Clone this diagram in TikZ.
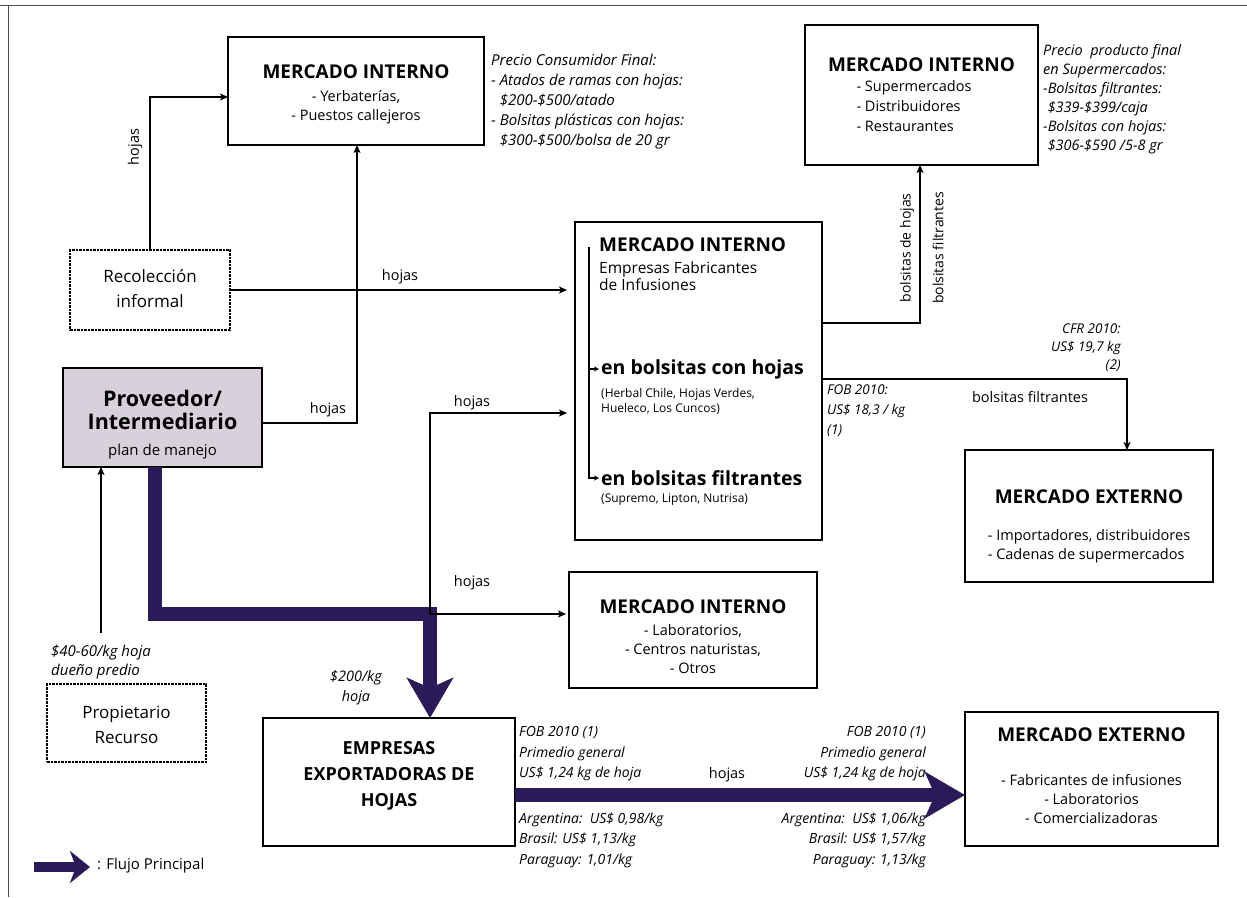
\documentclass[tikz,border=0pt]{standalone}
\usepackage{fontspec}
\setmainfont{Open Sans}
\usetikzlibrary{arrows.meta}
\definecolor{mainflow}{HTML}{2A1A58}
\definecolor{provfill}{HTML}{D8D0DA}
\begin{document}
\begin{tikzpicture}[x=1pt,y=-1pt,
  box/.style={draw, line width=1.6pt, inner sep=0, outer sep=0},
  dbox/.style={box, dash pattern=on 2.5pt off 1pt},
  ttl/.style={inner sep=0, font=\fontsize{19}{22}\selectfont\bfseries},
  itm/.style={inner sep=0, align=center, font=\fontsize{14.5}{19}\selectfont},
  big/.style={inner sep=0, align=center, font=\fontsize{17}{25}\selectfont},
  prc/.style={inner sep=0, font=\fontsize{14.5}{20}\selectfont\itshape},
  lbl/.style={inner sep=0, font=\fontsize{14.5}{18}\selectfont},
  conn/.style={line width=1.3pt, -{Stealth[length=8pt,width=7pt,inset=2pt]}},
  main/.style={line width=14pt, draw=mainflow, line join=miter, -{Stealth[length=40pt,width=46pt,inset=10pt]}},
]
\useasboundingbox (0,0) rectangle (1247,897);
% page border from scan
\draw[line width=1pt, black!70] (0,5) -- (1247,5);
\draw[line width=1pt, black!70] (8,5) -- (8,897);

% boxes
\node[box, minimum width=256pt, minimum height=108pt] (A) at (356,91) {};
\node[box, minimum width=233pt, minimum height=140pt] (B) at (921.5,95) {};
\node[dbox, minimum width=160pt, minimum height=80pt] (Rec) at (150,290) {};
\node[box, fill=provfill, minimum width=199pt, minimum height=99pt] (Prov) at (162.5,417.5) {};
\node[dbox, minimum width=159pt, minimum height=78pt] (Prop) at (126.5,723) {};
\node[box, minimum width=247pt, minimum height=318pt] (C) at (698.5,381) {};
\node[box, minimum width=248pt, minimum height=132pt] (E) at (1089,516) {};
\node[box, minimum width=248pt, minimum height=116pt] (D) at (693,630) {};
\node[box, minimum width=252pt, minimum height=128pt] (F) at (389,782) {};
\node[box, minimum width=253pt, minimum height=134pt] (G) at (1091.5,779) {};

% box texts
\node[ttl] (At) at (356,72) {MERCADO INTERNO};
\node[itm] (Ai) at (356,107.5) {- Yerbaterías,\\- Puestos callejeros};
\node[ttl] (Bt) at (921.5,65) {MERCADO INTERNO};
\node[itm, align=left, font=\fontsize{14.5}{20}\selectfont] (Bi) at (914,106) {- Supermercados\\- Distribuidores\\- Restaurantes};
\node[big] (Rect) at (150,289) {Recolección\\informal};
\node[big, font=\fontsize{21.5}{23}\selectfont\bfseries] (Provt) at (162.5,410) {Proveedor/\\Intermediario};
\node[itm, font=\fontsize{15}{19}\selectfont] (Provp) at (162.5,452) {plan de manejo};
\node[big] (Propt) at (126.5,725) {Propietario\\Recurso};
\node[ttl, anchor=west] (Ct) at (599,245) {MERCADO INTERNO};
\node[itm, anchor=west, align=left, font=\fontsize{15.5}{17}\selectfont] (Ci) at (599,276) {Empresas Fabricantes\\de Infusiones};
\node[inner sep=0, anchor=west, font=\fontsize{19.5}{22}\selectfont\bfseries] (C1) at (601,369) {en bolsitas con hojas};
\node[inner sep=0, anchor=west, align=left, font=\fontsize{12}{15}\selectfont] (C1i) at (601,401) {(Herbal Chile, Hojas Verdes,\\Hueleco, Los Cuncos)};
\node[inner sep=0, anchor=west, font=\fontsize{19.5}{22}\selectfont\bfseries] (C2) at (601,478) {en bolsitas filtrantes};
\node[inner sep=0, anchor=west, font=\fontsize{12}{15}\selectfont] (C2i) at (601,500) {(Supremo, Lipton, Nutrisa)};
\node[ttl] (Et) at (1089,497) {MERCADO EXTERNO};
\node[itm, align=left] (Ei) at (1089,546) {- Importadores, distribuidores\\- Cadenas de supermercados};
\node[ttl] (Dt) at (693,607) {MERCADO INTERNO};
\node[itm] (Di) at (693,649) {- Laboratorios,\\- Centros naturistas,\\- Otros};
\node[ttl, align=center, font=\fontsize{18}{26}\selectfont\bfseries] (Ft) at (389,776) {EMPRESAS\\EXPORTADORAS DE\\HOJAS};
\node[ttl] (Gt) at (1091.5,735) {MERCADO EXTERNO};
\node[itm] (Gi) at (1091.5,799) {- Fabricantes de infusiones\\- Laboratorios\\- Comercializadoras};

% price texts
\node[prc, anchor=west, align=left, font=\fontsize{15}{20}\selectfont\itshape] (Ap) at (491,102) {Precio Consumidor Final:\\- Atados de ramas con hojas:\\\phantom{- }\$200-\$500/atado\\- Bolsitas plásticas con hojas:\\\phantom{- }\$300-\$500/bolsa de 20 gr};
\node[prc, anchor=west, align=left, font=\fontsize{14.5}{19}\selectfont\itshape] (Bp) at (1043,99) {Precio\ \ producto final\\en Supermercados:\\-Bolsitas filtrantes:\\\phantom{-}\$339-\$399/caja\\-Bolsitas con hojas:\\\phantom{-}\$306-\$590 /5-8 gr};
\node[prc, anchor=west, align=left, font=\fontsize{15}{19}\selectfont\itshape] (Pp) at (51,662) {\$40-60/kg hoja\\dueño predio};
\node[prc, align=center] (Fp) at (356,688) {\$200/kg\\hoja};
\node[prc, anchor=east, align=right, font=\fontsize{13.5}{18}\selectfont\itshape] (Cfr) at (1121,348) {CFR 2010:\\US\$ 19,7 kg\\(2)};
\node[prc, anchor=west, align=left, font=\fontsize{13.5}{20}\selectfont\itshape] (Fob) at (827,411) {FOB 2010:\\US\$ 18,3 / kg\\(1)};
\node[prc, anchor=west, align=left, font=\fontsize{14}{20.5}\selectfont\itshape] (L1) at (519,754) {FOB 2010 (1)\\Primedio general\\US\$ 1,24 kg de hoja};
\node[prc, anchor=west, align=left, font=\fontsize{14}{20.5}\selectfont\itshape] (L2) at (519,840) {Argentina:\ \ US\$ 0,98/kg\\Brasil: US\$ 1,13/kg\\Paraguay: 1,01/kg};
\node[prc, anchor=east, align=right, font=\fontsize{14}{20.5}\selectfont\itshape] (R1) at (926,754) {FOB 2010 (1)\\Primedio general\\US\$ 1,24 kg de hoja};
\node[prc, anchor=east, align=right, font=\fontsize{14}{20.5}\selectfont\itshape] (R2) at (926,840) {Argentina:\ \ US\$ 1,06/kg\\Brasil: US\$ 1,57/kg\\Paraguay: 1,13/kg};

% connectors
\draw[conn] (Rec.north) |- (A.west |- 0,97);
\node[lbl, rotate=90] (h1) at (135,147) {hojas};
\draw[conn] (Prov.east |- 0,423) -| (A.south -| 357,0);
\node[lbl] (h2) at (328,410) {hojas};
\draw[conn, shorten >=8pt] (Rec.east) -- (Rec.east -| C.west);
\node[lbl] (h3) at (400,277) {hojas};
\coordinate (J) at (430,614);
\draw[main] (Prov.south -| 155,0) |- (J) -- (J |- F.north);
\draw[conn, shorten >=8pt] (J) |- (C.west |- 0,413);
\node[lbl] (h4) at (472,403) {hojas};
\draw[conn, shorten >=3pt] (J) -- (J -| D.west);
\node[lbl] (h5) at (472,583) {hojas};
\draw[conn] (C.east |- 0,323) -| (B.south -| 920,0);
\node[lbl, font=\fontsize{14}{18}\selectfont, rotate=90] (bh) at (907,248) {bolsitas de hojas};
\node[lbl, font=\fontsize{14}{18}\selectfont, rotate=90] (bf) at (938,248) {bolsitas filtrantes};
\draw[conn] (C.east |- 0,379) -| (E.north -| 1127,0);
\node[lbl] (bf2) at (1030,397) {bolsitas filtrantes};
\coordinate (pp) at (101,633);
\draw[conn] (pp) -- (pp |- Prov.south);
\draw[main] (F.east |- 0,795) -- (G.west |- 0,795);
\node[lbl] (h6) at (727,775) {hojas};

% inner bracket in C
\coordinate (c0) at (589,247);
\coordinate (c1) at (599,369);
\coordinate (c2) at (599,478);
\draw[conn, -{Stealth[length=5pt,width=5pt,inset=1.5pt]}] (c0) |- (c2);
\draw[conn, -{Stealth[length=5pt,width=5pt,inset=1.5pt]}] (c0 |- c1) -- (c1);

% legend
\coordinate (l1) at (34,867);
\coordinate (l2) at (90,867);
\draw[line width=10pt, draw=mainflow, -{Stealth[length=20pt,width=32pt,inset=6pt]}] (l1) -- (l2);
\node[inner sep=0, anchor=west, font=\fontsize{15}{16}\selectfont] (lg) at (97,866) {: Flujo Principal};
\end{tikzpicture}
\end{document}
